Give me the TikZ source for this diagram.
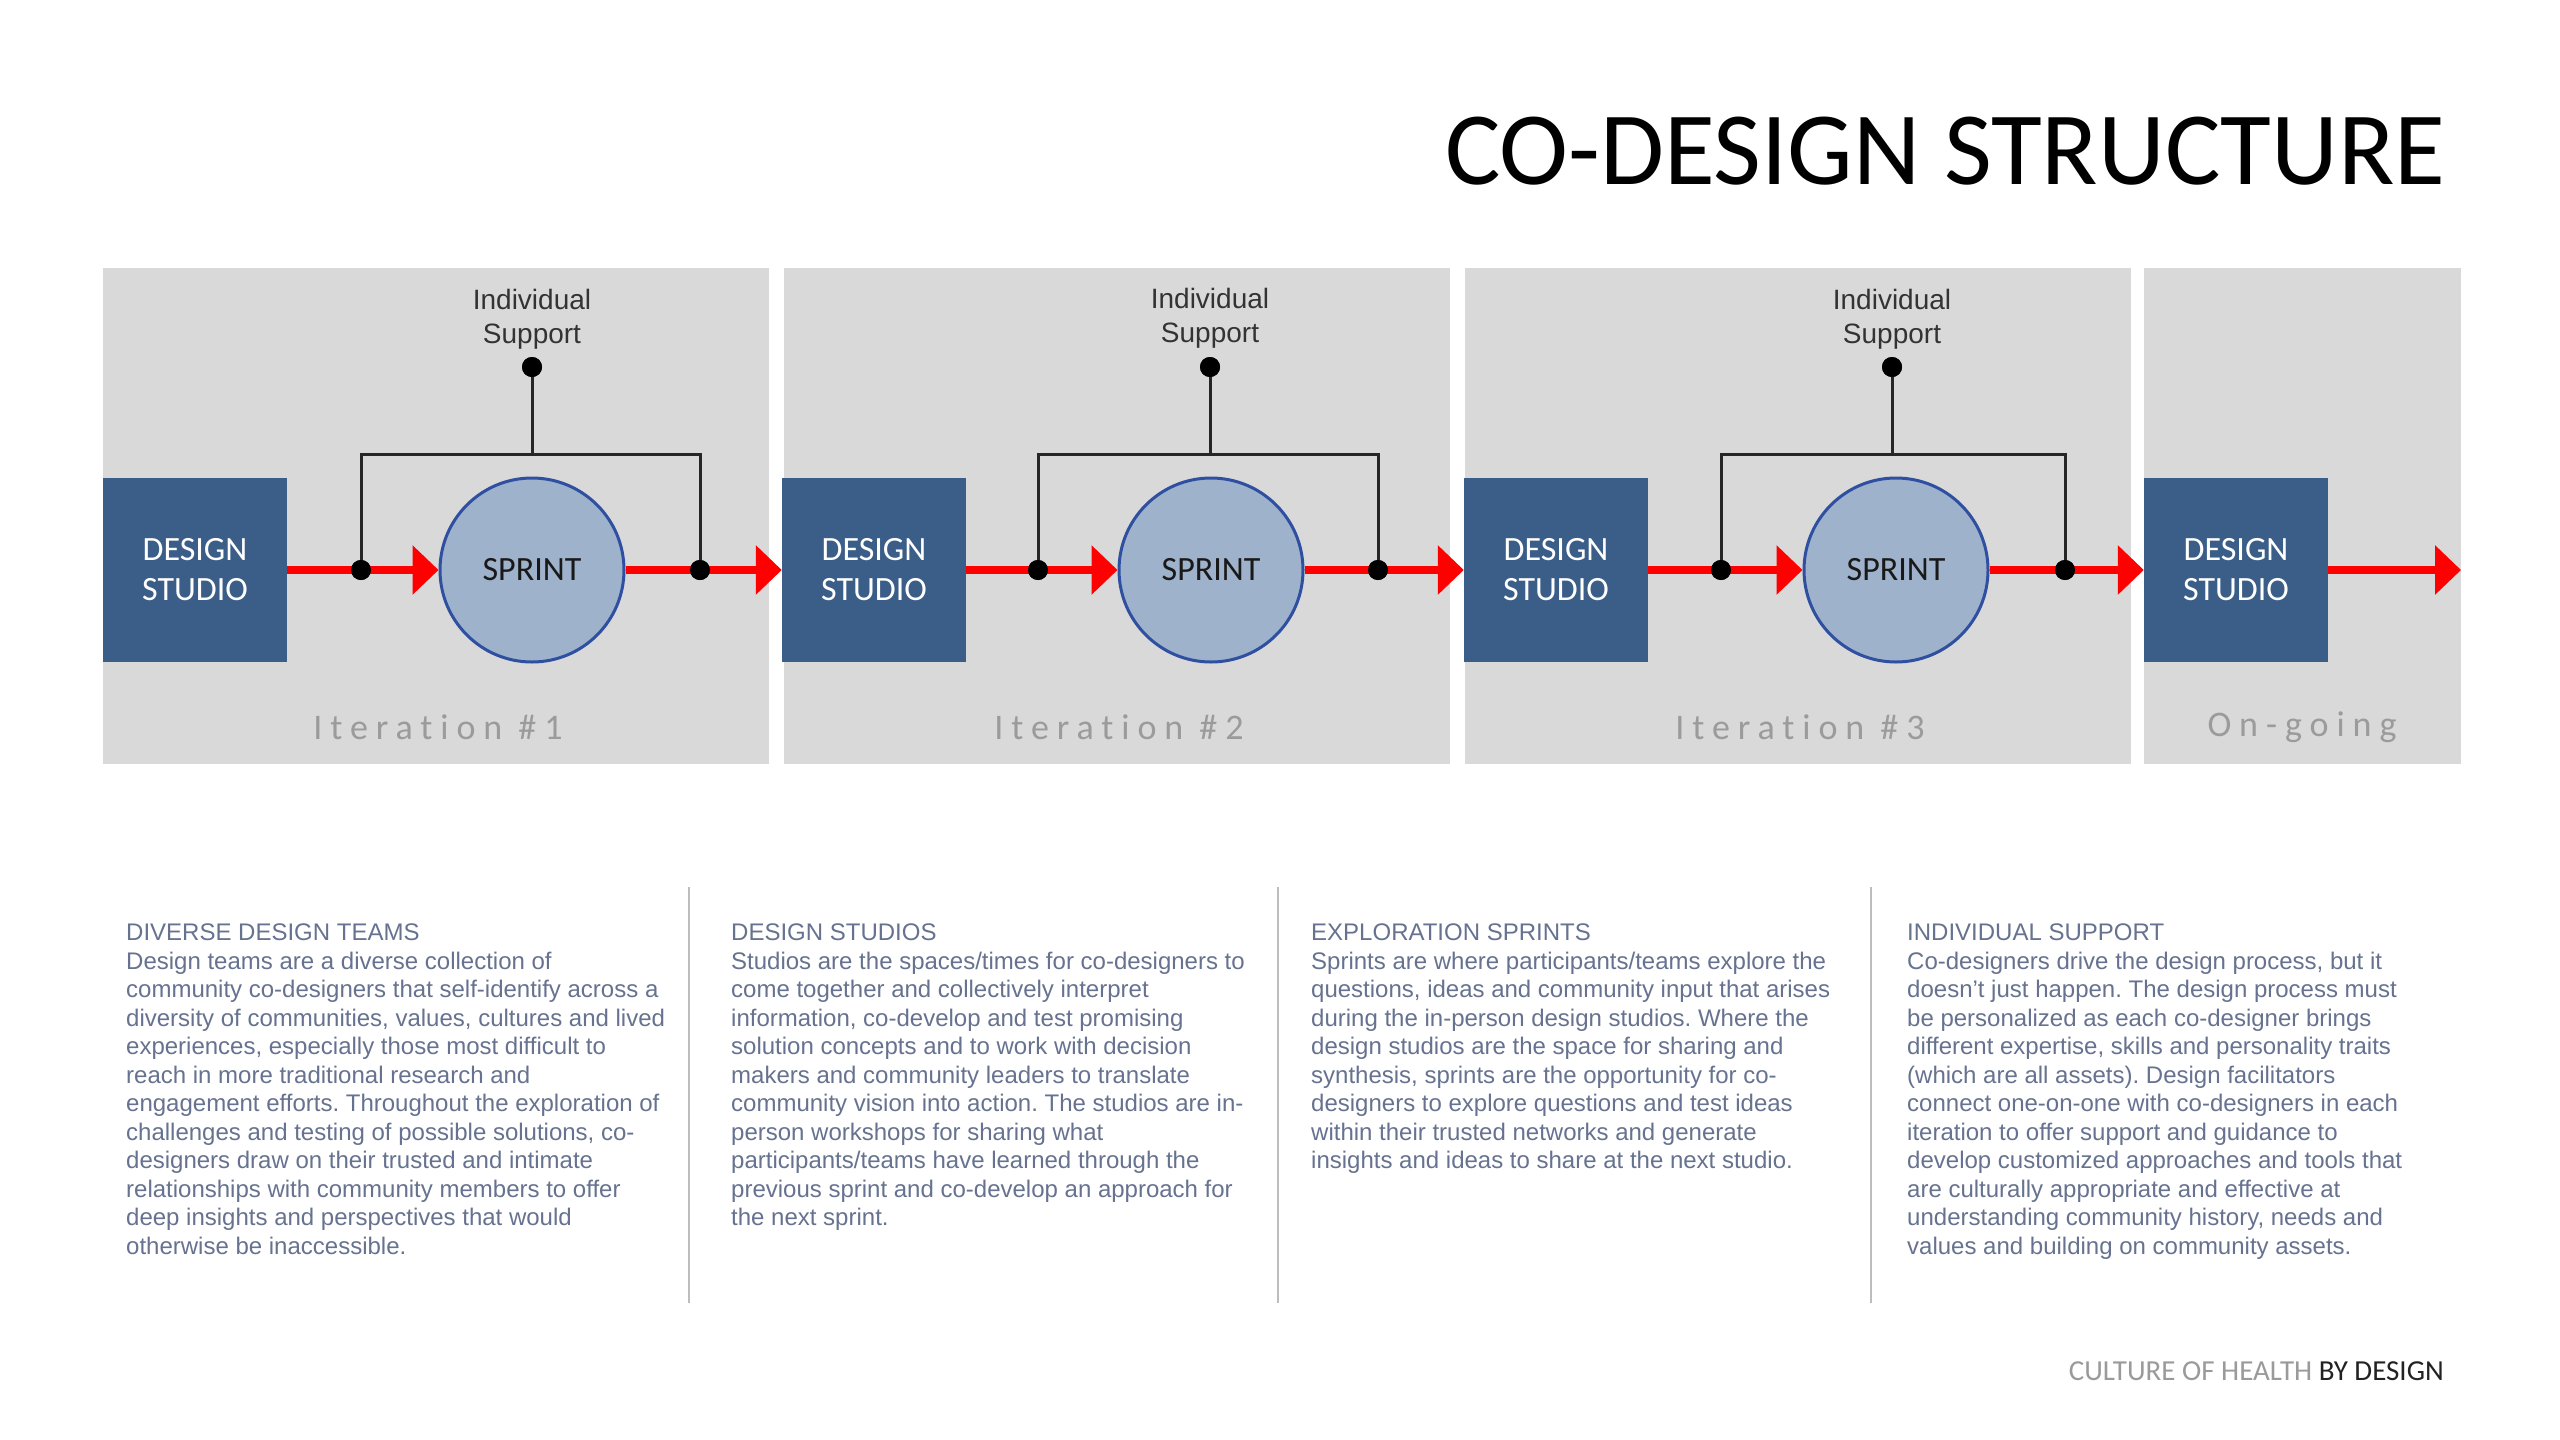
\documentclass[tikz,border=0pt]{standalone}
\usepackage{fontspec}
\setmainfont{Liberation Sans}
\newfontfamily\calib{Carlito}
\newfontfamily\calibsp[LetterSpace=22,Ligatures={NoCommon}]{Carlito}
\usetikzlibrary{arrows.meta}
\definecolor{panelgray}{HTML}{D9D9D9}
\definecolor{studioblue}{HTML}{3B5E89}
\definecolor{sprintfill}{HTML}{9FB2CB}
\definecolor{sprintedge}{HTML}{2F50A0}
\definecolor{bodytext}{HTML}{66728F}
\definecolor{itergray}{HTML}{9B9B9B}
\definecolor{divgray}{HTML}{BDBDBD}
\definecolor{footgray}{HTML}{9A9A9A}
\definecolor{footdark}{HTML}{222222}
\begin{document}
\frenchspacing
\begin{tikzpicture}[x=1pt,y=-1pt,
  panel/.style={fill=panelgray, draw=none, inner sep=0, minimum height=496pt, anchor=north west},
  studio/.style={fill=studioblue, minimum width=184pt, minimum height=184pt, inner sep=0, text=white, align=center, font=\calib\fontsize{34}{40}\selectfont},
  sprint/.style={circle, fill=sprintfill, draw=sprintedge, line width=3pt, minimum size=184pt, inner sep=0, font=\calib\fontsize{34}{40}\selectfont, text=black!90},
  flow/.style={draw=red, line width=8pt, -{Triangle[length=26pt,width=48pt]}},
  bracket/.style={draw=black!85, line width=3pt},
  dot/.style={circle, fill=black, minimum size=20pt, inner sep=0},
  suplabel/.style={align=center, inner sep=0, text=black!80, font=\fontsize{28}{34}\selectfont},
  iter/.style={inner sep=0, text=itergray, font=\calibsp\fontsize{36}{40}\selectfont},
  bodytxt/.style={anchor=north west, align=left, inner sep=0, text=bodytext, font=\fontsize{24}{28.5}\selectfont},
  divider/.style={draw=divgray, line width=2.5pt}
]
\fill[white] (0,0) rectangle (2560,1440);
\useasboundingbox (0,0) rectangle (2560,1440);

% title
\node[anchor=base east, inner sep=0, font=\calib\fontsize{104}{110}\selectfont] (title) at (2446,184) {CO-DESIGN STRUCTURE};

% panels
\node[panel, minimum width=666pt] (p1) at (103,268) {};
\node[panel, minimum width=666pt] (p2) at (784,268) {};
\node[panel, minimum width=666pt] (p3) at (1465,268) {};
\node[panel, minimum width=317pt] (p4) at (2144,268) {};

% studios and sprints
\node[studio] (ds1) at (195,570) {DESIGN\\STUDIO};
\node[studio] (ds2) at (874,570) {DESIGN\\STUDIO};
\node[studio] (ds3) at (1556,570) {DESIGN\\STUDIO};
\node[studio] (ds4) at (2236,570) {DESIGN\\STUDIO};
\node[sprint] (sp1) at (532,570) {SPRINT};
\node[sprint] (sp2) at (1211,570) {SPRINT};
\node[sprint] (sp3) at (1896,570) {SPRINT};
\coordinate (fin) at (2461,570);

% support dots and junction dots
\node[dot] (s1) at (532,367) {};
\node[dot] (s2) at (1210,367) {};
\node[dot] (s3) at (1892,367) {};
\node[dot] (a1) at (361,570) {};
\node[dot] (b1) at (700,570) {};
\node[dot] (a2) at (1038,570) {};
\node[dot] (b2) at (1378,570) {};
\node[dot] (a3) at (1721,570) {};
\node[dot] (b3) at (2065,570) {};
\coordinate (j1) at (532,454);
\coordinate (j2) at (1210,454);
\coordinate (j3) at (1892,454);

% brackets
\draw[bracket] (a1.center) |- (j1) -| (b1.center);
\draw[bracket] (s1.center) -- (j1);
\draw[bracket] (a2.center) |- (j2) -| (b2.center);
\draw[bracket] (s2.center) -- (j2);
\draw[bracket] (a3.center) |- (j3) -| (b3.center);
\draw[bracket] (s3.center) -- (j3);

% flows
\draw[flow] (ds1) -- (sp1);
\draw[flow] (sp1) -- (ds2);
\draw[flow] (ds2) -- (sp2);
\draw[flow] (sp2) -- (ds3);
\draw[flow] (ds3) -- (sp3);
\draw[flow] (sp3) -- (ds4);
\draw[flow] (ds4) -- (fin);

% redraw dots on top
\foreach \d in {a1,b1,a2,b2,a3,b3,s1,s2,s3}{\fill[black] (\d) circle (10pt);}

% labels
\node[suplabel] (l1) at (532,319) {Individual\\Support};
\node[suplabel] (l2) at (1210,318) {Individual\\Support};
\node[suplabel] (l3) at (1892,319) {Individual\\Support};
\node[iter] (i1) at (438,727) {Iteration \#1};
\node[iter] (i2) at (1119,727) {Iteration \#2};
\node[iter] (i3) at (1800,727) {Iteration \#3};
\node[iter] (i4) at (2302,727) {On-going};

% dividers
\draw[divider] (689,887) -- (689,1303);
\draw[divider] (1278,887) -- (1278,1303);
\draw[divider] (1871,887) -- (1871,1303);

% body texts
\node[bodytxt] (t1) at (126,924) {DIVERSE DESIGN TEAMS\\
Design teams are a diverse collection of\\
community co-designers that self-identify across a\\
diversity of communities, values, cultures and lived\\
experiences, especially those most difficult to\\
reach in more traditional research and\\
engagement efforts. Throughout the exploration of\\
challenges and testing of possible solutions, co-\\
designers draw on their trusted and intimate\\
relationships with community members to offer\\
deep insights and perspectives that would\\
otherwise be inaccessible.};

\node[bodytxt] (t2) at (731,924) {DESIGN STUDIOS\\
Studios are the spaces/times for co-designers to\\
come together and collectively interpret\\
information, co-develop and test promising\\
solution concepts and to work with decision\\
makers and community leaders to translate\\
community vision into action. The studios are in-\\
person workshops for sharing what\\
participants/teams have learned through the\\
previous sprint and co-develop an approach for\\
the next sprint.};

\node[bodytxt] (t3) at (1311,924) {EXPLORATION SPRINTS\\
Sprints are where participants/teams explore the\\
questions, ideas and community input that arises\\
during the in-person design studios. Where the\\
design studios are the space for sharing and\\
synthesis, sprints are the opportunity for co-\\
designers to explore questions and test ideas\\
within their trusted networks and generate\\
insights and ideas to share at the next studio.};

\node[bodytxt] (t4) at (1907,924) {INDIVIDUAL SUPPORT\\
Co-designers drive the design process, but it\\
doesn't just happen. The design process must\\
be personalized as each co-designer brings\\
different expertise, skills and personality traits\\
(which are all assets). Design facilitators\\
connect one-on-one with co-designers in each\\
iteration to offer support and guidance to\\
develop customized approaches and tools that\\
are culturally appropriate and effective at\\
understanding community history, needs and\\
values and building on community assets.};

% footer
\node[anchor=base east, inner sep=0, font=\calib\fontsize{29}{32}\selectfont] (footer) at (2444,1380) {\textcolor{footgray}{CULTURE OF HEALTH} \textcolor{footdark}{BY DESIGN}};
\end{tikzpicture}
\end{document}
